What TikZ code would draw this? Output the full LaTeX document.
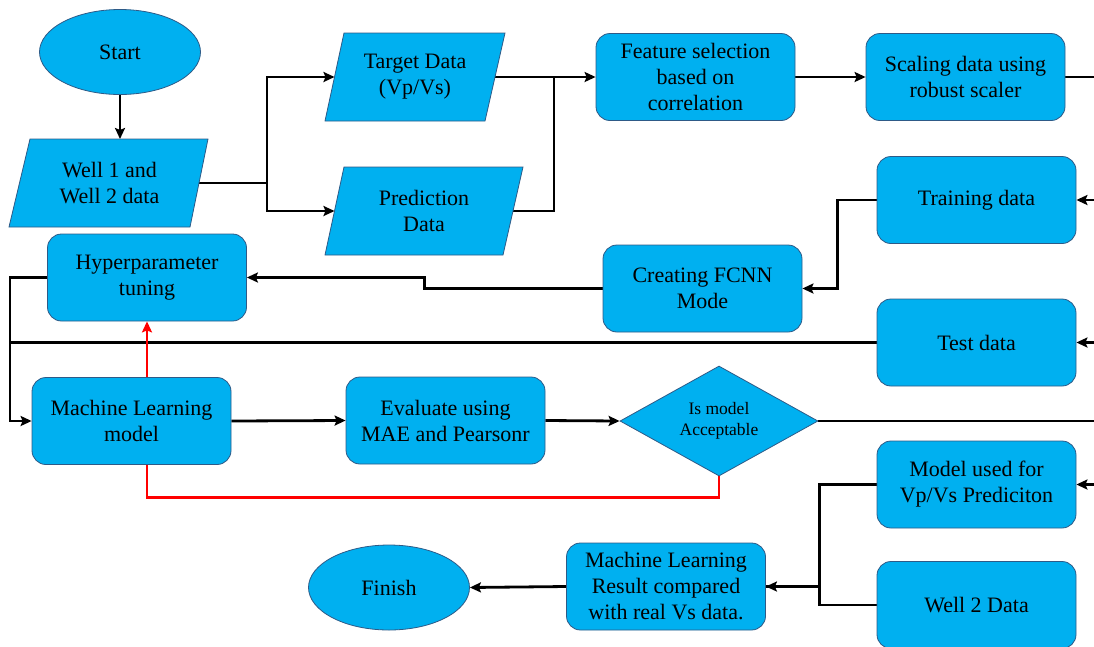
\documentclass[tikz,border=0pt]{standalone}
\usepackage{fontspec}
\setmainfont{Liberation Serif}
\newfontfamily\tnr{Liberation Serif}
\usetikzlibrary{shapes.geometric,arrows.meta,calc}
\pgfdeclarelayer{bg}
\pgfsetlayers{bg,main}
\definecolor{fillc}{HTML}{00B0F0}
\definecolor{edgec}{HTML}{2E5A87}
\begin{document}
\begin{tikzpicture}[x=1pt,y=-1pt,
  shp/.style={draw=edgec,fill=fillc,line width=0.8pt},
  txt/.style={align=center,inner sep=0pt,font=\tnr\fontsize{22}{26}\selectfont},
  box/.style={shp,txt,rounded corners=14pt,minimum width=199pt,minimum height=87pt},
  oval/.style={shp,txt,ellipse,minimum width=161pt,minimum height=85pt},
  conn/.style={line width=2.8pt,black},
  arr/.style={conn,-{Stealth[length=11pt,width=10pt,inset=2pt]}},
  redarr/.style={line width=2.6pt,red,-{Stealth[length=11pt,width=10pt,inset=2pt]}}]
\useasboundingbox (0,0) rectangle (1094,646);

% terminals
\node[oval] (start) at (120,52) {Start};
\node[oval] (finish) at (389,587.5) {Finish};

% parallelograms
\draw[shp] (30,139) -- (208,139) -- (190,227) -- (9,227) -- cycle;
\node[txt] (well) at (109.5,183) {Well 1 and\\Well 2 data};
\draw[shp] (344,33) -- (505,33) -- (485,121) -- (325,121) -- cycle;
\node[txt] (tgt) at (415,77) {Target Data\\(Vp/Vs)};
\draw[shp] (344,167) -- (523,167) -- (503,255) -- (325,255) -- cycle;
\node[txt] (pred) at (424,211) {Prediction\\Data};

\coordinate (wellT) at (120,139);
\coordinate (wellR) at (199,183);
\coordinate (tgtL) at (334.5,77);
\coordinate (tgtR) at (494.5,77);
\coordinate (predL) at (334.5,211);
\coordinate (predR) at (513,211);

% boxes
\node[box] (feat) at (695.5,77) {Feature selection\\based on\\correlation};
\node[box] (scale) at (965.5,77) {Scaling data using\\robust scaler};
\node[box] (train) at (976.5,200) {Training data};
\node[box] (test) at (976.5,342.5) {Test data};
\node[box] (used) at (976.5,484.5) {Model used for\\Vp/Vs Prediciton};
\node[box] (well2) at (976.5,605) {Well 2 Data};
\node[box] (fcnn) at (702.5,288.5) {Creating FCNN\\Mode};
\node[box] (hyper) at (147,277.5) {Hyperparameter\\tuning};
\node[box] (ml) at (131.5,421) {Machine Learning\\model};
\node[box] (eval) at (445.5,420.5) {Evaluate using\\MAE and Pearsonr};
\node[box] (result) at (666,586.5) {Machine Learning\\Result compared\\with real Vs data.};
\node[shp,diamond,aspect=1.8,minimum width=198pt,minimum height=110pt,inner sep=0pt,align=center,
      font=\tnr\fontsize{17.5}{21}\selectfont] (dia) at (719,421) {Is model\\Acceptable};

% off-page ends
\coordinate (o1) at (1094,77);
\coordinate (o2) at (1094,200);
\coordinate (o3) at (1094,342.5);
\coordinate (o4) at (1094,421);
\coordinate (o5) at (1094,484.5);
\coordinate (bus) at (10,0);

% connectors
\begin{pgfonlayer}{bg}
\draw[arr] (start.south) -- (wellT);
\draw[arr] (wellR) -- ++(68,0) |- (tgtL);
\draw[arr] (wellR) -- ++(68,0) |- (predL);
\draw[arr] (tgtR) -- (feat.west);
\draw[conn] (predR) -- ++(41,0) |- (tgtR);
\draw[arr] (feat.east) -- (scale.west);
\draw[conn] (scale.east) -- (o1);
\draw[arr] (o2) -- (train.east);
\draw[arr] (o3) -- (test.east);
\draw[arr] (o5) -- (used.east);
\draw[arr] (train.west) -- ++(-39,0) |- (fcnn.east);
\draw[arr] (fcnn.west) -- ++(-178,0) |- (hyper.east);
\draw[arr] (hyper.west) -| (bus |- hyper.west) |- (ml.west);
\draw[conn] (test.west) -- (test.west -| bus);
\draw[arr] (ml.east) -- (eval.west);
\draw[arr] (eval.east) -- (dia.west);
\draw[conn] (dia.east) -- (o4);
\draw[redarr] (dia.south) -- ++(0,21) -| (hyper.south);
\draw[arr] (used.west) -- ++(-57,0) |- (result.east);
\draw[conn] (well2.west) -- ++(-57,0) |- (result.east);
\draw[arr] (result.west) -- (finish.east);
\end{pgfonlayer}
\end{tikzpicture}
\end{document}
